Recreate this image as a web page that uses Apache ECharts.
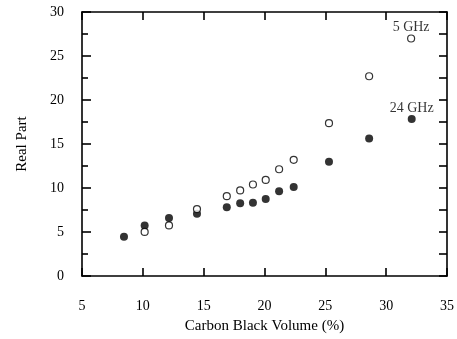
<!DOCTYPE html>
<html>
<head>
<meta charset="utf-8">
<script src="https://cdn.jsdelivr.net/npm/echarts@6/dist/echarts.min.js"></script>
<style>html,body{margin:0;padding:0;background:#fff}#c{width:457px;height:339px}</style>
</head>
<body>
<div id="c"></div>
<script>
const xTicks = [5, 10, 15, 20, 25, 30, 35];
const yTicks = [0, 5, 10, 15, 20, 25, 30];
const vol24 = [8.45, 10.15, 12.15, 14.45, 16.9, 18.0, 19.05, 20.1, 21.2, 22.4, 25.3, 28.6, 32.1];
const real24 = [4.46, 5.75, 6.6, 7.08, 7.82, 8.26, 8.33, 8.74, 9.62, 10.1, 12.97, 15.63, 17.84];
const vol5 = [10.15, 12.15, 14.45, 16.9, 18.0, 19.05, 20.1, 21.2, 22.4, 25.3, 28.6, 32.05];
const real5 = [5.01, 5.75, 7.6, 9.07, 9.73, 10.4, 10.92, 12.13, 13.2, 17.37, 22.7, 26.99];
const label5 = '5 GHz';
const label24 = '24 GHz';

const font = 'Liberation Serif';
function pts(xs, ys, lbl) {
  return xs.map((x, i) => {
    const d = {value: [x, ys[i]]};
    if (i === xs.length - 1) d.label = {show: true, formatter: lbl, position: 'top', distance: 0,
      color: '#000', fontFamily: font, fontSize: 14};
    return d;
  });
}
const lineStyle = {color: '#000', width: 1.6};
const chart = echarts.init(document.getElementById('c'));
chart.setOption({
  animation: false,
  grid: {left: 82, top: 12, right: 8, bottom: 56},
  xAxis: [{
    type: 'value', min: xTicks[0], max: xTicks[xTicks.length - 1], interval: 5,
    name: 'Carbon Black Volume (%)', nameLocation: 'middle', nameGap: 43,
    nameTextStyle: {fontFamily: font, fontSize: 15, color: '#000'},
    axisLine: {onZero: false, lineStyle: lineStyle},
    axisTick: {inside: true, length: 8, lineStyle: lineStyle},
    axisLabel: {margin: 23, fontFamily: font, fontSize: 14, color: '#000'},
    splitLine: {show: false}
  }, {
    type: 'value', position: 'top', min: xTicks[0], max: xTicks[xTicks.length - 1], interval: 5,
    axisLine: {show: true, onZero: false, lineStyle: lineStyle},
    axisTick: {inside: true, length: 8, lineStyle: lineStyle},
    axisLabel: {show: false}, splitLine: {show: false}
  }],
  yAxis: [{
    type: 'value', min: yTicks[0], max: yTicks[yTicks.length - 1], interval: 5,
    name: 'Real Part', nameLocation: 'middle', nameGap: 52, nameRotate: 90,
    nameTextStyle: {fontFamily: font, fontSize: 15, color: '#000'},
    axisLine: {onZero: false, lineStyle: lineStyle},
    axisTick: {inside: true, length: 9, lineStyle: lineStyle},
    minorTick: {show: true, splitNumber: 2, length: 6, lineStyle: lineStyle},
    axisLabel: {margin: 18, fontFamily: font, fontSize: 14, color: '#000'},
    splitLine: {show: false}
  }, {
    type: 'value', position: 'right', min: 0, max: 30, interval: 2.5,
    axisLine: {show: true, onZero: false, lineStyle: lineStyle},
    axisTick: {show: true, inside: true, length: 8, lineStyle: lineStyle},
    axisLabel: {show: false}, splitLine: {show: false}
  }],
  series: [{
    type: 'scatter', name: label24, symbol: 'circle', symbolSize: 8,
    itemStyle: {color: '#000'},
    data: pts(vol24, real24, label24)
  }, {
    type: 'scatter', name: label5, symbol: 'circle', symbolSize: 7,
    itemStyle: {color: '#fff', borderColor: '#000', borderWidth: 1.2},
    data: pts(vol5, real5, label5)
  }]
});
</script>
</body>
</html>
